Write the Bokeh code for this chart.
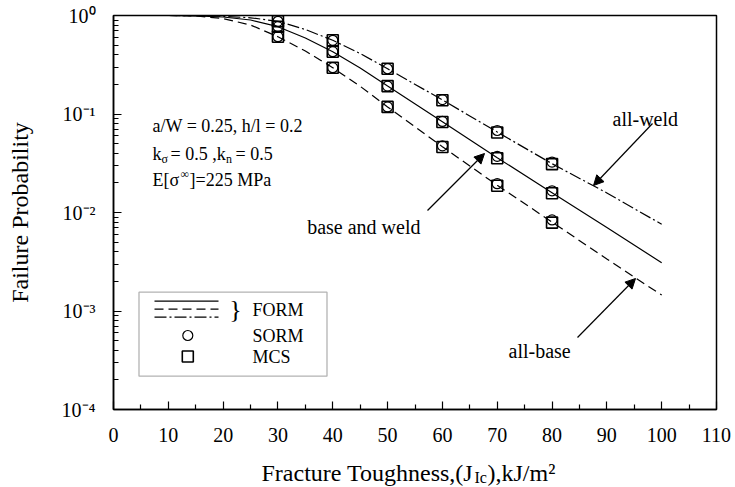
from bokeh.plotting import figure
from bokeh.layouts import column
from bokeh.models import (FixedTicker, CustomJSTickFormatter, Label, Arrow,
                          NormalHead, BoxAnnotation, Range1d)
from bokeh.embed import file_html
from bokeh.resources import INLINE

# ---- data -------------------------------------------------------------
toughness = [10, 15, 20, 25, 30, 35, 40, 45, 50, 60, 70, 80, 90, 100]
form_all_weld = [1.0, 0.998, 0.981, 0.948, 0.873, 0.721, 0.560, 0.411, 0.288,
                 0.139, 0.0656, 0.0313, 0.0158, 0.00759]
form_base_weld = [1.0, 0.993, 0.966, 0.900, 0.770, 0.591, 0.429, 0.293, 0.192,
                  0.0835, 0.0360, 0.0159, 0.00704, 0.00309]
form_all_base = [1.0, 0.99, 0.93, 0.801, 0.609, 0.436, 0.295, 0.191, 0.118,
                 0.0466, 0.0189, 0.0080, 0.00337, 0.00145]

sample_j = [30, 40, 50, 60, 70, 80]
sorm_all_weld = [0.873, 0.560, 0.288, 0.140, 0.0680, 0.0325]
sorm_base_weld = [0.770, 0.429, 0.192, 0.0840, 0.0372, 0.0166]
sorm_all_base = [0.609, 0.295, 0.118, 0.0475, 0.0196, 0.0084]
mcs_all_weld = [0.873, 0.560, 0.288, 0.138, 0.0650, 0.0310]
mcs_base_weld = [0.770, 0.429, 0.192, 0.0830, 0.0356, 0.0157]
mcs_all_base = [0.609, 0.295, 0.118, 0.0462, 0.0187, 0.0079]

x_ticks = [0, 10, 20, 30, 40, 50, 60, 70, 80, 90, 100, 110]
y_ticks = [1e-4, 1e-3, 1e-2, 1e-1, 1.0]

# ---- geometry (pixels) -------------------------------------------------
W = 735
H_MAIN, H_TITLE = 455, 32
L, R, T, B = 113, 716, 15, 409
X0, X1 = 0, 110
LOG0, LOG1 = -4, 0


def dx(px):
    return X0 + (px - L) / (R - L) * (X1 - X0)


def dy(py):
    return 10 ** (LOG1 - (py - T) / (B - T) * (LOG1 - LOG0))


FONT = "Liberation Serif"

p = figure(width=W, height=H_MAIN, x_range=Range1d(X0, X1),
           y_range=Range1d(10 ** LOG0, 10 ** LOG1), y_axis_type="log",
           output_backend="svg", toolbar_location=None, title=None,
           min_border_left=L, min_border_right=W - R,
           min_border_top=T, min_border_bottom=H_MAIN - B)

p.xgrid.visible = False
p.ygrid.visible = False
p.outline_line_color = "black"
p.outline_line_width = 1.5
p.background_fill_color = "white"
p.border_fill_color = "white"

for ax in (p.xaxis, p.yaxis):
    ax.axis_line_width = 1.5
    ax.major_tick_line_width = 1.2
    ax.minor_tick_line_width = 1.2
    ax.major_tick_out = 0
    ax.minor_tick_out = 0
    ax.major_label_text_font = FONT
    ax.major_label_text_font_size = "20px"
    ax.major_label_text_color = "black"

p.xaxis.ticker = FixedTicker(ticks=x_ticks,
                             minor_ticks=[t + 5 for t in x_ticks[:-1]])
p.xaxis.major_tick_in = 8
p.xaxis.minor_tick_in = 5
p.xaxis.major_label_standoff = 18

p.yaxis.ticker = FixedTicker(
    ticks=y_ticks,
    minor_ticks=[m * 10 ** e for e in range(LOG0, LOG1) for m in range(2, 10)])
p.yaxis.major_tick_in = 8
p.yaxis.minor_tick_in = 5
p.yaxis.major_label_standoff = 18
p.yaxis.formatter = CustomJSTickFormatter(code="""
    const e = Math.round(Math.log10(tick));
    const sup = {'-': '\\u207b', '0': '\\u2070', '1': '\\u00b9', '2': '\\u00b2',
                 '3': '\\u00b3', '4': '\\u2074'};
    return '10' + String(e).split('').map(c => sup[c]).join('');
""")
p.yaxis.axis_label = "Failure Probability"
p.yaxis.axis_label_text_font = FONT
p.yaxis.axis_label_text_font_size = "24px"
p.yaxis.axis_label_text_font_style = "normal"
p.yaxis.axis_label_text_color = "black"
p.yaxis.axis_label_standoff = 26

# ---- FORM curves -------------------------------------------------------
LW = 1.2
WELD_DASH = "12 3 2 3"
BASE_DASH = "9 5"
p.line(toughness, form_all_weld, line_color="black", line_width=LW,
       line_dash=WELD_DASH)
p.line(toughness, form_base_weld, line_color="black", line_width=LW)
p.line(toughness, form_all_base, line_color="black", line_width=LW,
       line_dash=BASE_DASH)

# ---- MCS (squares) and SORM (circles) ----------------------------------
SQ, CI = 11, 10
for mcs in (mcs_all_weld, mcs_base_weld, mcs_all_base):
    p.scatter(sample_j, mcs, marker="square", size=SQ, fill_color=None,
              line_color="black", line_width=1.6)
for sorm in (sorm_all_weld, sorm_base_weld, sorm_all_base):
    p.scatter(sample_j, sorm, marker="circle", size=CI, fill_color=None,
              line_color="black", line_width=1.2)


def put(fig, text, x, y, size, align="left", baseline="alphabetic"):
    fig.add_layout(Label(x=x, y=y, text=text, text_font=FONT,
                         text_font_size=f"{size}px", text_align=align,
                         text_baseline=baseline, text_color="black"))


def put_px(text, px, py, size, align="left", baseline="alphabetic"):
    put(p, text, dx(px), dy(py), size, align, baseline)


# ---- parameter block ---------------------------------------------------
put_px("a/W = 0.25, h/l = 0.2", 152, 125, 18)
put_px("k", 152, 153, 18)
put_px("\u03c3", 161, 158, 12)
put_px("= 0.5 ,k", 170, 153, 18)
put_px("n", 225.5, 158, 12)
put_px("= 0.5", 235, 153, 18)
put_px("E[\u03c3", 152, 179, 18)
put_px("\u221e", 180, 173, 12)
put_px("]=225 MPa", 189, 179, 18)

# ---- curve call-outs ---------------------------------------------------
head = dict(size=10, fill_color="black", line_color="black", line_width=1)
callouts = [
    ("all-weld", (652, 123), (593, 185), (612, 118), "left"),
    ("base and weld", (427, 210), (484, 153), (420, 226), "right"),
    ("all-base", (577, 337), (635, 278), (508, 350), "left"),
]
for text, start, tip, pos, align in callouts:
    p.add_layout(Arrow(end=NormalHead(**head), x_start=dx(start[0]),
                       y_start=dy(start[1]), x_end=dx(tip[0]),
                       y_end=dy(tip[1]), line_color="black", line_width=1.2))
    put_px(text, pos[0], pos[1], 20, align=align)

# ---- legend --------------------------------------------------------------
p.add_layout(BoxAnnotation(left=dx(138.5), right=dx(326.5), top=dy(291.7),
                           bottom=dy(375.7), fill_color=None,
                           line_color="black", line_width=1.3))
for yy, dash in ((300.7, "solid"), (308.7, BASE_DASH), (316.7, WELD_DASH)):
    p.line([dx(154), dx(218)], [dy(yy), dy(yy)], line_color="black",
           line_width=LW, line_dash=dash)
put_px("}", 235, 309, 26, align="center", baseline="middle")
put_px("FORM", 252, 309, 18, baseline="middle")
p.scatter([dx(187.3)], [dy(335)], marker="circle", size=CI, fill_color=None,
          line_color="black", line_width=1.2)
put_px("SORM", 252, 335, 18, baseline="middle")
p.scatter([dx(187.3)], [dy(356)], marker="square", size=SQ, fill_color=None,
          line_color="black", line_width=1.6)
put_px("MCS", 252, 356, 18, baseline="middle")

# ---- x-axis title strip: same x mapping as the plot, y in pixels upward --
t = figure(width=W, height=H_TITLE, x_range=Range1d(X0, X1),
           y_range=Range1d(0, H_TITLE), output_backend="svg",
           toolbar_location=None, title=None, x_axis_location=None,
           y_axis_location=None, min_border_left=L, min_border_right=W - R,
           min_border_top=0, min_border_bottom=0)
t.outline_line_color = None
t.xgrid.visible = False
t.ygrid.visible = False
t.background_fill_color = "white"
t.border_fill_color = "white"

x0, base = 261, 15
put(t, "Fracture Toughness,(J", dx(x0), base, 24)
put(t, "Ic", dx(x0 + 213), base - 5, 16)
put(t, "),kJ/m\u00b2", dx(x0 + 226), base, 24)

layout = column(p, t, spacing=0)
open("out.html", "w").write(file_html(layout, INLINE))
